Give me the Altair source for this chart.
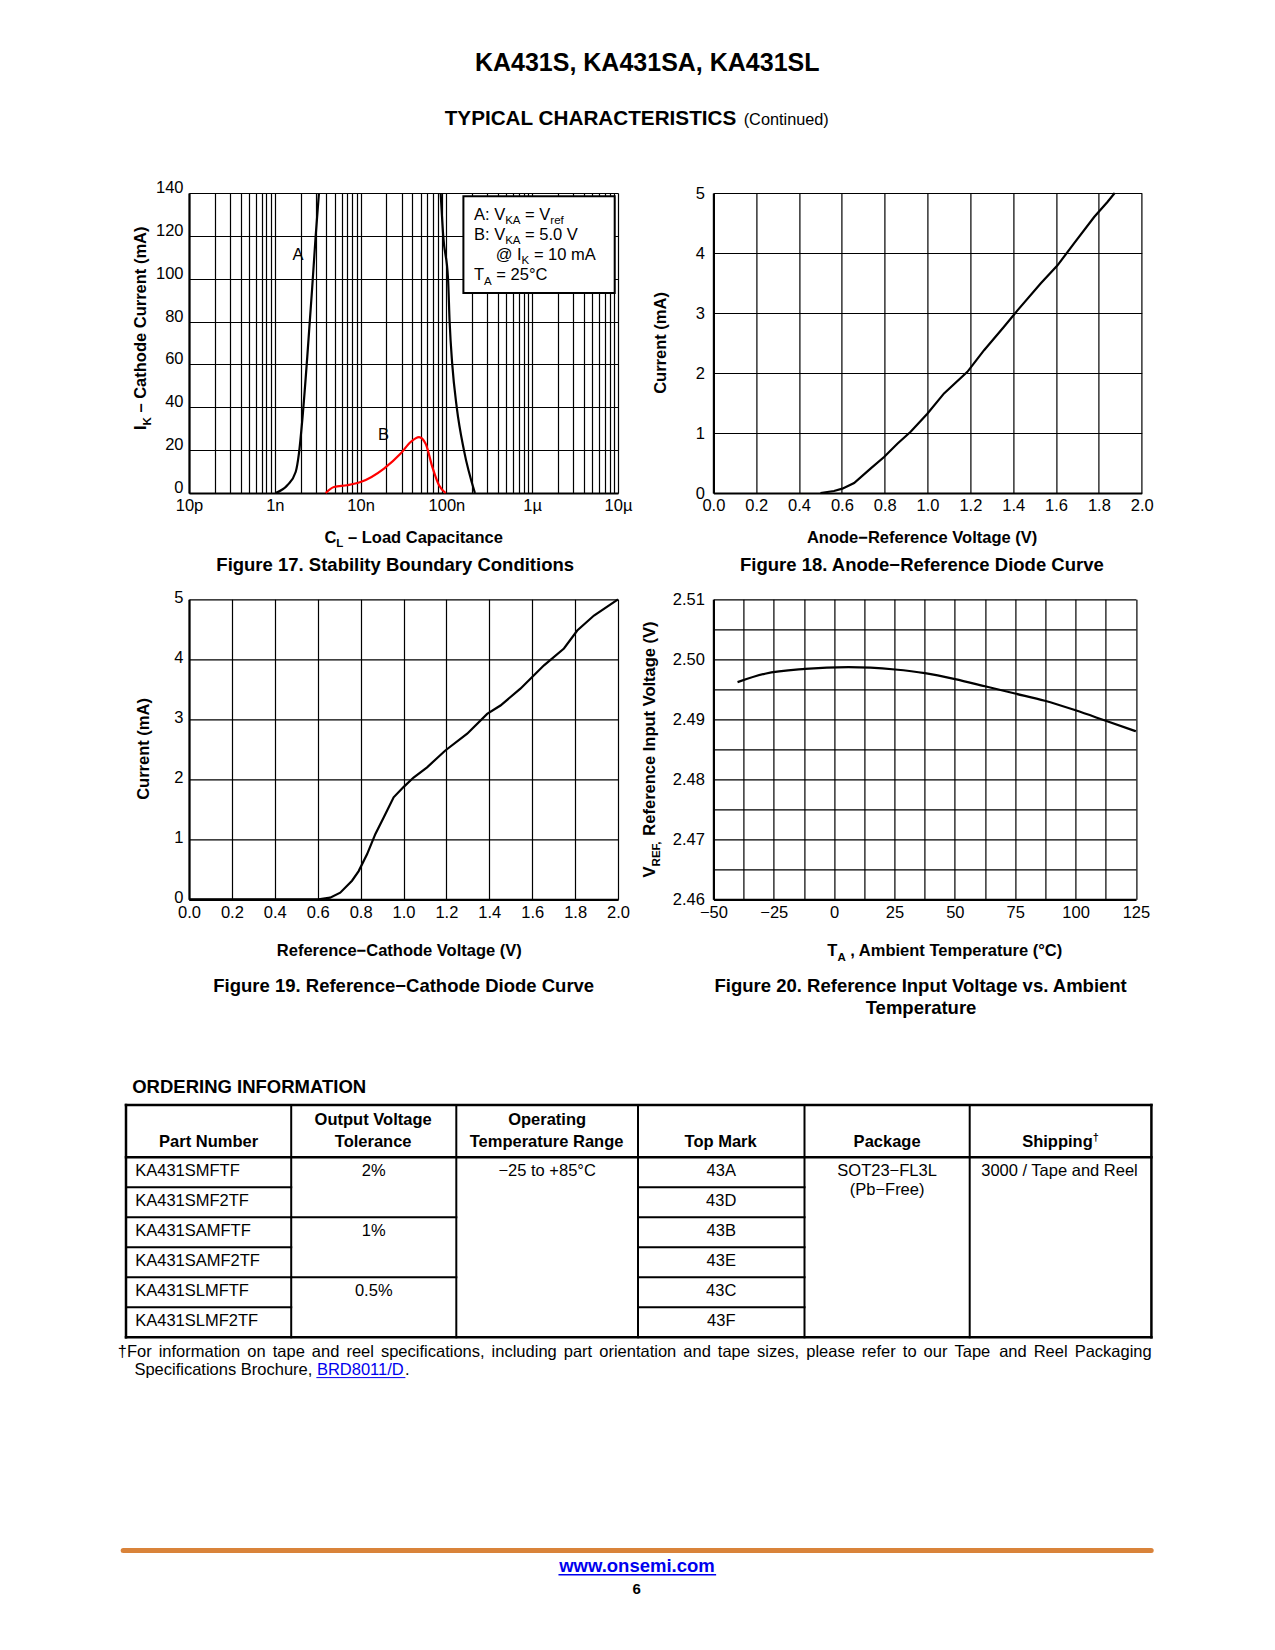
import altair as alt
import pandas as pd

FONT = "Liberation Sans"

# ---------------- chart data ----------------
# Figure 17: stability boundary (load capacitance [F] vs cathode current [mA])
F17_DECADES = [1e-10, 1e-9, 1e-8, 1e-7, 1e-6, 1e-5]
F17_LABELS = ["10p", "1n", "10n", "100n", "1µ", "10µ"]
A_LEFT_C = [1.02e-9, 1.40e-9, 1.75e-9, 1.91e-9, 2.09e-9, 2.39e-9, 2.73e-9, 2.99e-9, 3.27e-9]
A_LEFT_I = [0, 3.6, 9.8, 18.4, 33.9, 63.5, 96, 119.5, 140]
A_RIGHT_C = [8.57e-8, 9.2e-8, 1.045e-7, 1.09e-7, 1.17e-7, 1.32e-7, 1.60e-7, 2.15e-7]
A_RIGHT_I = [140, 119.5, 100, 80, 60, 40, 20, 0]
B_C = [3.92e-9, 4.9e-9, 7.0e-9, 1.0e-8, 1.875e-8, 2.93e-8, 3.83e-8, 4.8e-8, 5.73e-8, 6.86e-8, 8.2e-8, 9.8e-8]
B_I = [0, 2.8, 3.6, 5.1, 11.4, 18.4, 23.8, 26.1, 23, 12.1, 3.6, 0]
TAG_TEXT = ["A", "B"]
TAG_C = [1.86e-9, 1.85e-8]
TAG_I = [111, 27.1]

# Figure 18: anode-reference diode curve
F18_V = [0.50, 0.563, 0.602, 0.657, 0.735, 0.797, 0.859, 0.921, 0.999, 1.077, 1.186,
         1.264, 1.357, 1.419, 1.528, 1.606, 1.684, 1.778, 1.84, 1.874]
F18_I = [0, 0.033, 0.072, 0.167, 0.41, 0.6, 0.82, 1.02, 1.32, 1.66, 2.02,
         2.38, 2.77, 3.04, 3.49, 3.79, 4.16, 4.6, 4.85, 5.0]

# Figure 19: reference-cathode diode curve
F19_V = [0.0, 0.604, 0.658, 0.705, 0.76, 0.791, 0.83, 0.869, 0.907, 0.954, 1.0, 1.047,
         1.11, 1.195, 1.297, 1.39, 1.452, 1.545, 1.655, 1.748, 1.81, 1.888, 2.0]
F19_I = [0, 0, 0.028, 0.11, 0.31, 0.47, 0.75, 1.09, 1.36, 1.7, 1.87, 2.03,
         2.2, 2.48, 2.76, 3.09, 3.23, 3.51, 3.9, 4.18, 4.48, 4.73, 5.0]

# Figure 20: reference input voltage vs ambient temperature
F20_T = [-40, -28.6, -12, 5.9, 25.2, 37.6, 50.1, 62.5, 74.9, 87.3, 100, 112.2, 125]
F20_V = [2.4962, 2.4976, 2.4984, 2.4987, 2.4983, 2.4977, 2.4967, 2.4955, 2.4943,
         2.4931, 2.4915, 2.4898, 2.488]

# Ordering information table
HEADERS = [["Part Number"], ["Output Voltage", "Tolerance"], ["Operating", "Temperature Range"],
           ["Top Mark"], ["Package"], ["Shipping"]]
PART_NUMBERS = ["KA431SMFTF", "KA431SMF2TF", "KA431SAMFTF", "KA431SAMF2TF", "KA431SLMFTF", "KA431SLMF2TF"]
TOLERANCES = ["2%", "1%", "0.5%"]
TEMP_RANGE = "−25 to +85°C"
TOP_MARKS = ["43A", "43D", "43B", "43E", "43C", "43F"]
PACKAGE = ["SOT23−FL3L", "(Pb−Free)"]
SHIPPING = "3000 / Tape and Reel"
FOOT1 = ("†For information on tape and reel specifications, including part orientation and tape sizes, "
         "please refer to our Tape and Reel Packaging")
FOOT2 = "Specifications Brochure, "
FOOT_LINK = "BRD8011/D"

# ---------------- layout (page pixels) ----------------
COL1_X, ROW1_Y = 188.3, 192.7
PLOT_W, PLOT_H = 429, 300
COL_GAP, ROW_GAP = 95.4, 106.3
PAGE_VIEW_Y = ROW1_Y + 2 * (PLOT_H + ROW_GAP)
COL_EDGES = [125.3, 290.5, 455.6, 637.3, 803.8, 969.0, 1150.7]
TABLE_TOP, HEAD_BOTTOM, ROW_H = 1104.7, 1157.0, 30.0
TICK_FS = 16.5

# Arial / Liberation Sans advance widths (1/1000 em)
REG_W = {' ': 278, '!': 278, '(': 333, ')': 333, '+': 584, ',': 278, '-': 333, '.': 278, '/': 278,
         ':': 278, '=': 584, '@': 1015, '%': 889, '°': 400, '–': 556, '−': 584, 'µ': 577, '†': 556}
BOLD_W = {' ': 278, '(': 333, ')': 333, ',': 278, '-': 333, '.': 278, '/': 278, ':': 333, '=': 584,
          '%': 889, '°': 400, '–': 556, '−': 584, '†': 556, '@': 975}
for ch, w in zip("ABCDEFGHIJKLMNOPQRSTUVWXYZ",
                 [667, 667, 722, 722, 667, 611, 778, 722, 278, 500, 667, 556, 833, 722, 778, 667, 778, 722, 667, 611, 722, 667, 944, 667, 667, 611]):
    REG_W[ch] = w
for ch, w in zip("abcdefghijklmnopqrstuvwxyz",
                 [556, 556, 500, 556, 556, 278, 556, 556, 222, 222, 500, 222, 833, 556, 556, 556, 556, 333, 500, 278, 556, 500, 722, 500, 500, 500]):
    REG_W[ch] = w
for ch, w in zip("ABCDEFGHIJKLMNOPQRSTUVWXYZ",
                 [722, 722, 722, 722, 667, 611, 778, 722, 278, 556, 722, 611, 833, 722, 778, 667, 778, 722, 667, 611, 722, 667, 944, 667, 667, 611]):
    BOLD_W[ch] = w
for ch, w in zip("abcdefghijklmnopqrstuvwxyz",
                 [556, 611, 556, 611, 556, 333, 611, 611, 278, 278, 556, 278, 889, 611, 611, 611, 611, 389, 556, 333, 611, 556, 778, 556, 556, 500]):
    BOLD_W[ch] = w
for d in "0123456789":
    REG_W[d] = 556
    BOLD_W[d] = 556


def W(text, size, bold=False):
    tbl = BOLD_W if bold else REG_W
    return sum(tbl.get(ch, 556) for ch in text) * size / 1000.0


rows = []


def P(text, size, bold=False, shift=0.0, color="black"):
    return (text, size, bold, shift, color)


def put(pieces, x, y, anchor="start", rotated=False):
    total = sum(W(p[0], p[1], p[2]) for p in pieces)
    pos = {"start": 0.0, "center": -total / 2, "end": -total}[anchor]
    for text, size, bold, shift, color in pieces:
        lead = len(text) - len(text.lstrip(" "))
        off = pos + W(text[:lead], size, bold)
        body = text.strip(" ")
        if body:
            if rotated:
                rows.append(dict(t=body, x=x + shift, y=y - off, fs=size, b=bold, r=rotated, c=color))
            else:
                rows.append(dict(t=body, x=x + off, y=y + shift, fs=size, b=bold, r=rotated, c=color))
        pos += W(text, size, bold)
    return total


TS, SUB, SH, CAP, LS = 16.5, 11.5, 4.5, 18.5, 16.5

# page header
put([P("KA431S, KA431SA, KA431SL", 25, True)], 646.5, 70.7, "center")
put([P("TYPICAL CHARACTERISTICS", 20.7, True)], 444, 124.5)
put([P("(Continued)", 16.3)], 743, 124.5)

# figure 17 texts
put([P("I", TS, True), P("K", SUB, True, SH), P(" – Cathode Current (mA)", TS, True)], 145.5, 328, "center", True)
put([P("C", TS, True), P("L", SUB, True, SH), P(" – Load Capacitance", TS, True)], 413, 542.4, "center")
put([P("Figure 17. Stability Boundary Conditions", CAP, True)], 394.5, 570.6, "center")
put([P("A: V", LS), P("KA", SUB, False, SH), P(" = V", LS), P("ref", SUB, False, SH)], 473.3, 219.3)
put([P("B: V", LS), P("KA", SUB, False, SH), P(" = 5.0 V", LS)], 473.3, 239.3)
put([P("@ I", LS), P("K", SUB, False, SH), P(" = 10 mA", LS)], 495, 259.3)
put([P("T", LS), P("A", SUB, False, SH), P(" = 25°C", LS)], 473.3, 280)

# figure 18 texts
put([P("Current (mA)", TS, True)], 665, 342.7, "center", True)
put([P("Anode−Reference Voltage (V)", TS, True)], 922, 542.4, "center")
put([P("Figure 18. Anode−Reference Diode Curve", CAP, True)], 921.5, 570.6, "center")

# figure 19 texts
put([P("Current (mA)", TS, True)], 148.6, 748.7, "center", True)
put([P("Reference−Cathode Voltage (V)", TS, True)], 399.2, 955.9, "center")
put([P("Figure 19. Reference−Cathode Diode Curve", CAP, True)], 403, 991.3, "center")

# figure 20 texts
put([P("V", TS, True), P("REF,", SUB, True, SH), P(" Reference Input Voltage (V)", TS, True)], 654.6, 748.5, "center", True)
put([P("T", TS, True), P("A", SUB, True, SH), P(" , Ambient Temperature (°C)", TS, True)], 945, 955.9, "center")
put([P("Figure 20. Reference Input Voltage vs. Ambient", CAP, True)], 921, 991.3, "center")
put([P("Temperature", CAP, True)], 921, 1013.4, "center")

# ordering information table
put([P("ORDERING INFORMATION", 18.5, True)], 131.5, 1093)
centers = [(COL_EDGES[i] + COL_EDGES[i + 1]) / 2 for i in range(6)]
HB2 = HEAD_BOTTOM - 10.4
HB1 = HB2 - 22.4
for j, lines in enumerate(HEADERS):
    if j == 5:
        put([P(lines[0], 16.5, True), P("†", 11, True, -6)], centers[j], HB2, "center")
    elif len(lines) == 1:
        put([P(lines[0], 16.5, True)], centers[j], HB2, "center")
    else:
        put([P(lines[0], 16.5, True)], centers[j], HB1, "center")
        put([P(lines[1], 16.5, True)], centers[j], HB2, "center")


def row_base(i):
    return HEAD_BOTTOM + i * ROW_H + 19


for i, pn in enumerate(PART_NUMBERS):
    put([P(pn, 16.5)], 134.5, row_base(i))
    put([P(TOP_MARKS[i], 16.5)], centers[3], row_base(i), "center")
for k, tol in enumerate(TOLERANCES):
    put([P(tol, 16.5)], centers[1], row_base(2 * k), "center")
put([P(TEMP_RANGE, 16.5)], centers[2], row_base(0), "center")
put([P(PACKAGE[0], 16.5)], centers[4], row_base(0), "center")
put([P(PACKAGE[1], 16.5)], centers[4], row_base(0) + 18.7, "center")
put([P(SHIPPING, 16.5)], centers[5], row_base(0), "center")

# footnote (line 1 justified)
words = FOOT1.split(" ")
nat = sum(W(w_, 16.5) for w_ in words)
gap = (1151 - 117 - nat) / (len(words) - 1)
xx = 117.0
for w_ in words:
    put([P(w_, 16.5)], xx, 1357)
    xx += W(w_, 16.5) + gap
LINK = "#0000ee"
l2 = put([P(FOOT2, 16.5)], 133.7, 1375)
link_x = 133.7 + l2
link_w = put([P(FOOT_LINK, 16.5, False, 0, LINK)], link_x, 1375)
put([P(".", 16.5)], link_x + link_w, 1375)

# page footer
www_w = W("www.onsemi.com", 18.5, True)
put([P("www.onsemi.com", 18.5, True, 0, LINK)], 636.6, 1571.3, "center")
put([P("6", 15, True)], 636, 1593.3, "center")

# table / underline rules (page coordinates)
bottom = HEAD_BOTTOM + 6 * ROW_H
rule_rows = []
for k, e in enumerate(COL_EDGES):
    rule_rows.append(dict(x=e, x2=e, y=TABLE_TOP, y2=bottom, w=2.5 if k in (0, 6) else 2.0, c="black"))
for yv in (TABLE_TOP, HEAD_BOTTOM, bottom):
    rule_rows.append(dict(x=COL_EDGES[0], x2=COL_EDGES[6], y=yv, y2=yv, w=2.5, c="black"))
for i in range(1, 6):
    yv = HEAD_BOTTOM + i * ROW_H
    rule_rows.append(dict(x=COL_EDGES[0], x2=COL_EDGES[1], y=yv, y2=yv, w=2.0, c="black"))
    rule_rows.append(dict(x=COL_EDGES[3], x2=COL_EDGES[4], y=yv, y2=yv, w=2.0, c="black"))
    if i in (2, 4):
        rule_rows.append(dict(x=COL_EDGES[1], x2=COL_EDGES[2], y=yv, y2=yv, w=2.0, c="black"))
rule_rows.append(dict(x=link_x, x2=link_x + link_w, y=1377.3, y2=1377.3, w=1.0, c=LINK))
rule_rows.append(dict(x=636.6 - www_w / 2, x2=636.6 + www_w / 2, y=1574.5, y2=1574.5, w=1.4, c=LINK))

# ---------------- page view (page-pixel scales) ----------------
PX = alt.Scale(domain=[0, 1275], range=[-COL1_X, 1275 - COL1_X], nice=False, zero=False)
PY = alt.Scale(domain=[0, 1650], range=[-PAGE_VIEW_Y, 1650 - PAGE_VIEW_Y], nice=False, zero=False)


def pxy():
    return dict(x=alt.X("x:Q", scale=PX, axis=None), y=alt.Y("y:Q", scale=PY, axis=None))


frame = alt.Chart(pd.DataFrame({"x": [8], "x2": [1266], "y": [8], "y2": [1641]})).mark_rect(
    opacity=0).encode(**pxy(), x2="x2:Q", y2="y2:Q")
legend_box = alt.Chart(pd.DataFrame({"x": [462.7], "x2": [614.0], "y": [196.0], "y2": [292.7]})).mark_rect(
    fill="white", stroke="black", strokeWidth=2).encode(**pxy(), x2="x2:Q", y2="y2:Q")
rules = alt.Chart(pd.DataFrame(rule_rows)).mark_rule(strokeCap="square").encode(
    **pxy(), x2="x2:Q", y2="y2:Q",
    strokeWidth=alt.StrokeWidth("w:Q", scale=None, legend=None),
    color=alt.Color("c:N", scale=None, legend=None))
orange = alt.Chart(pd.DataFrame({"x": [122.5], "x2": [1150.5], "y": [1550.3], "y2": [1550.3]})).mark_rule(
    color="#D9833A", strokeWidth=5, strokeCap="round").encode(**pxy(), x2="x2:Q", y2="y2:Q")

tdf = pd.DataFrame(rows)
text_layers = []
for bold in (False, True):
    for rot in (False, True):
        sub = tdf[(tdf["b"] == bold) & (tdf["r"] == rot)][["t", "x", "y", "fs", "c"]]
        if len(sub) == 0:
            continue
        text_layers.append(
            alt.Chart(sub).mark_text(font=FONT, fontWeight="bold" if bold else "normal", align="left",
                                     baseline="alphabetic", angle=270 if rot else 0).encode(
                **pxy(), text="t:N",
                size=alt.Size("fs:Q", scale=None, legend=None),
                color=alt.Color("c:N", scale=None, legend=None)))

page = alt.layer(frame, legend_box, rules, orange, *text_layers).properties(width=PLOT_W, height=PLOT_H)


# ---------------- figures ----------------
def axis(values, **kw):
    base = dict(grid=True, gridColor="black", gridWidth=1.2, gridOpacity=1, ticks=False,
                domainColor="black", domainWidth=2.2, labelFont=FONT, labelFontSize=TICK_FS,
                labelColor="black", labelFlush=False, labelOverlap=False, title=None, values=values)
    base.update(kw)
    return alt.Axis(**base)


F17_GRID = [float(f"{k}e{e}") for e in range(-10, -5) for k in range(1, 10)] + [1e-5]
expr17 = "".join(f"datum.value == {v!r} ? '{lab}' : " for v, lab in zip(F17_DECADES, F17_LABELS)) + "''"
x17 = alt.X("C:Q", scale=alt.Scale(type="log", domain=[1e-10, 1e-5], nice=False),
            axis=axis(F17_GRID, labelExpr=expr17, labelPadding=4))
y17 = alt.Y("I:Q", scale=alt.Scale(domain=[0, 140], nice=False),
            axis=axis(list(range(0, 141, 20)), labelPadding=6, labelBaseline="alphabetic", labelOffset=-0.5))
a_df = pd.DataFrame({"C": A_LEFT_C + A_RIGHT_C, "I": A_LEFT_I + A_RIGHT_I,
                     "seg": ["left"] * len(A_LEFT_C) + ["right"] * len(A_RIGHT_C)})
b_df = pd.DataFrame({"C": B_C, "I": B_I})
tag_df = pd.DataFrame({"C": TAG_C, "I": TAG_I, "tag": TAG_TEXT})
f17 = alt.layer(
    alt.Chart(a_df).mark_line(color="black", strokeWidth=2.2, interpolate="monotone").encode(x=x17, y=y17, detail="seg:N"),
    alt.Chart(b_df).mark_line(color="#ff0000", strokeWidth=2.2, interpolate="monotone").encode(x=x17, y=y17),
    alt.Chart(tag_df).mark_text(font=FONT, fontSize=16.5, color="black").encode(x=x17, y=y17, text="tag:N"),
).properties(width=PLOT_W, height=PLOT_H)

V_GRID = [round(0.2 * k, 1) for k in range(11)]
f18 = alt.Chart(pd.DataFrame({"V": F18_V, "I": F18_I})).mark_line(color="black", strokeWidth=2.2).encode(
    x=alt.X("V:Q", scale=alt.Scale(domain=[0, 2], nice=False), axis=axis(V_GRID, format=".1f", labelPadding=4)),
    y=alt.Y("I:Q", scale=alt.Scale(domain=[0, 5], nice=False), axis=axis([0, 1, 2, 3, 4, 5], format="d", labelPadding=9)),
).properties(width=428.3, height=PLOT_H)

f19 = alt.Chart(pd.DataFrame({"V": F19_V, "I": F19_I})).mark_line(color="black", strokeWidth=2.2).encode(
    x=alt.X("V:Q", scale=alt.Scale(domain=[0, 2], nice=False), axis=axis(V_GRID, format=".1f", labelPadding=5.5)),
    y=alt.Y("I:Q", scale=alt.Scale(domain=[0, 5], nice=False),
            axis=axis([0, 1, 2, 3, 4, 5], format="d", labelPadding=6, labelOffset=-2)),
).properties(width=PLOT_W, height=PLOT_H)

T_GRID = [-50 + 12.5 * k for k in range(15)]
VR_GRID = [round(2.46 + 0.005 * k, 3) for k in range(11)]
f20 = alt.Chart(pd.DataFrame({"T": F20_T, "V": F20_V})).mark_line(color="black", strokeWidth=2.2, interpolate="monotone").encode(
    x=alt.X("T:Q", scale=alt.Scale(domain=[-50, 125], nice=False, zero=False),
            axis=axis(T_GRID, labelExpr="datum.value % 25 == 0 ? format(datum.value, 'd') : ''", labelPadding=5.5)),
    y=alt.Y("V:Q", scale=alt.Scale(domain=[2.46, 2.51], nice=False, zero=False),
            axis=axis(VR_GRID, labelExpr="abs(datum.value * 100 - round(datum.value * 100)) < 0.001 ? format(datum.value, '.2f') : ''",
                      labelPadding=9)),
).properties(width=422.5, height=PLOT_H)

chart = alt.concat(f17, f18, f19, f20, page, columns=2, bounds="flush",
                   spacing={"row": ROW_GAP, "column": COL_GAP}).properties(padding=0).configure(
    font=FONT).configure_view(stroke=None)

chart.save("out.html", embed_options={"renderer": "svg", "actions": False})
